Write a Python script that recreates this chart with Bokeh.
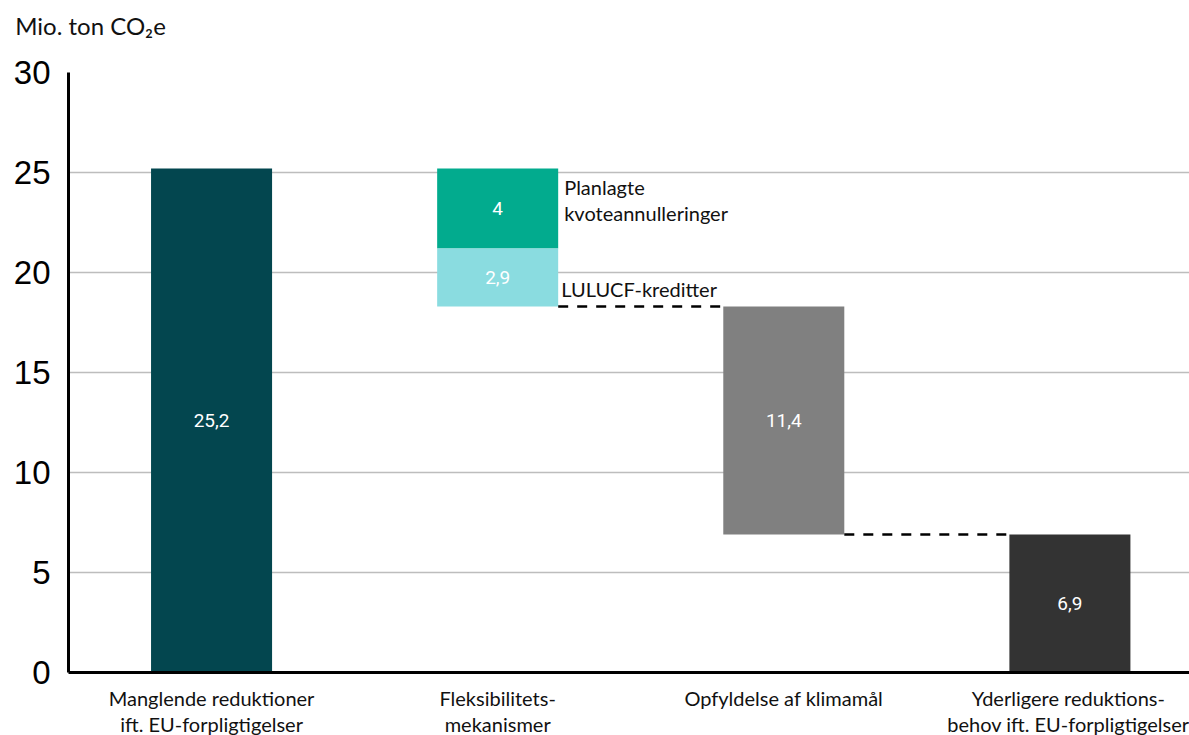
from bokeh.plotting import figure
from bokeh.models import FixedTicker, Range1d, LinearAxis
from bokeh.core.properties import value
from bokeh.embed import file_html
from bokeh.resources import INLINE

# ---- data ----
categories = ["Manglende reduktioner\nift. EU-forpligtigelser",
              "Fleksibilitets-\nmekanismer",
              "Opfyldelse af klimamål",
              "Yderligere reduktions-\nbehov ift. EU-forpligtigelser"]
mangler = 25.2
kvote = 4.0
lulucf = 2.9
klimamaal = 11.4
yderligere = 6.9
seg_labels = ["25,2", "4", "2,9", "11,4", "6,9"]
y_ticks = [0, 5, 10, 15, 20, 25, 30]
unit_title = "Mio. ton CO₂e"

FONT = "Lato"
W = 0.423  # bar width in category units

after_flex = mangler - kvote - lulucf
segs = [
    (0, 0.0, mangler, "#03464F", seg_labels[0]),
    (1, mangler - kvote, mangler, "#02AB8E", seg_labels[1]),
    (1, after_flex, mangler - kvote, "#8ADCE0", seg_labels[2]),
    (2, after_flex - klimamaal, after_flex, "#808080", seg_labels[3]),
    (3, 0.0, yderligere, "#333333", seg_labels[4]),
]
xs = [s[0] + 0.5 for s in segs]
bottoms = [s[1] for s in segs]
tops = [s[2] for s in segs]
colors = [s[3] for s in segs]
labels = [s[4] for s in segs]
mids = [(b + t) / 2 for b, t in zip(bottoms, tops)]

p = figure(frame_width=1121, frame_height=600, output_backend="svg", toolbar_location=None,
           x_range=Range1d(0, 3.918), y_range=Range1d(0, 30),
           min_border_left=68, min_border_right=0, min_border_top=72, min_border_bottom=63)
p.outline_line_color = None
p.background_fill_color = "white"

p.vbar(x=xs, width=W, bottom=bottoms, top=tops, color=colors, line_color=None)
p.text(x=xs, y=mids, text=labels, text_color="white", text_align="center",
       text_baseline="middle", text_font=value("Roboto"), text_font_size="19px")

# dashed connectors
p.segment(x0=[1.5 + W / 2, 2.5 + W / 2], y0=[after_flex, yderligere],
          x1=[2.5 - W / 2, 3.5 - W / 2], y1=[after_flex, yderligere],
          line_color="black", line_width=2.5, line_dash="10 9")

# annotation labels
p.text(x=[1.5 + W / 2, 1.5 + W / 2], y=[mangler, mangler],
       text=["Planlagte", "kvoteannulleringer"], x_offset=[6, 6], y_offset=[18, 44],
       text_align="left", text_baseline="middle", text_font=value(FONT),
       text_font_size="20px", text_color="#111111")
p.text(x=[1.5 + W / 2], y=[after_flex], text=["LULUCF-kreditter"], x_offset=[3],
       y_offset=[-18], text_align="left", text_baseline="middle",
       text_font=value(FONT), text_font_size="20px", text_color="#111111")

# unit title placed in the top margin (as a single label on an invisible top axis)
top_axis = LinearAxis(ticker=FixedTicker(ticks=[0.077]),
                      major_label_overrides={0.077: unit_title},
                      axis_line_color=None, major_tick_line_color=None,
                      minor_tick_line_color=None, major_tick_out=0, major_tick_in=0,
                      major_label_standoff=33, major_label_text_font=FONT,
                      major_label_text_font_size="24px", major_label_text_color="#111111")
p.add_layout(top_axis, "above")

# axes
p.yaxis.ticker = FixedTicker(ticks=y_ticks)
p.yaxis.major_label_text_font = "Liberation Sans"
p.yaxis.major_label_text_font_size = "33px"
p.yaxis.major_label_text_color = "black"
p.yaxis.major_label_standoff = 18
p.yaxis.major_tick_out = 0
p.yaxis.major_tick_in = 0
p.yaxis.major_tick_line_color = None
p.yaxis.minor_tick_line_color = None
p.yaxis.axis_line_color = "black"
p.yaxis.axis_line_width = 3

p.below[0].ticker = FixedTicker(ticks=[0.5, 1.5, 2.5, 3.5])
p.below[0].major_label_overrides = {i + 0.5: c for i, c in enumerate(categories)}
p.below[0].major_tick_out = 0
p.below[0].major_tick_in = 0
p.below[0].major_tick_line_color = None
p.below[0].minor_tick_line_color = None
p.below[0].axis_line_color = "black"
p.below[0].axis_line_width = 3
p.below[0].major_label_text_font = FONT
p.below[0].major_label_text_font_size = "20px"
p.below[0].major_label_text_color = "#111111"
p.below[0].major_label_text_line_height = 1.1
p.below[0].major_label_standoff = 13

p.xgrid.grid_line_color = None
p.ygrid.ticker = FixedTicker(ticks=y_ticks[1:])
p.ygrid.grid_line_color = "#bdbdbd"
p.ygrid.grid_line_width = 1.5

open("out.html", "w").write(file_html(p, INLINE))
